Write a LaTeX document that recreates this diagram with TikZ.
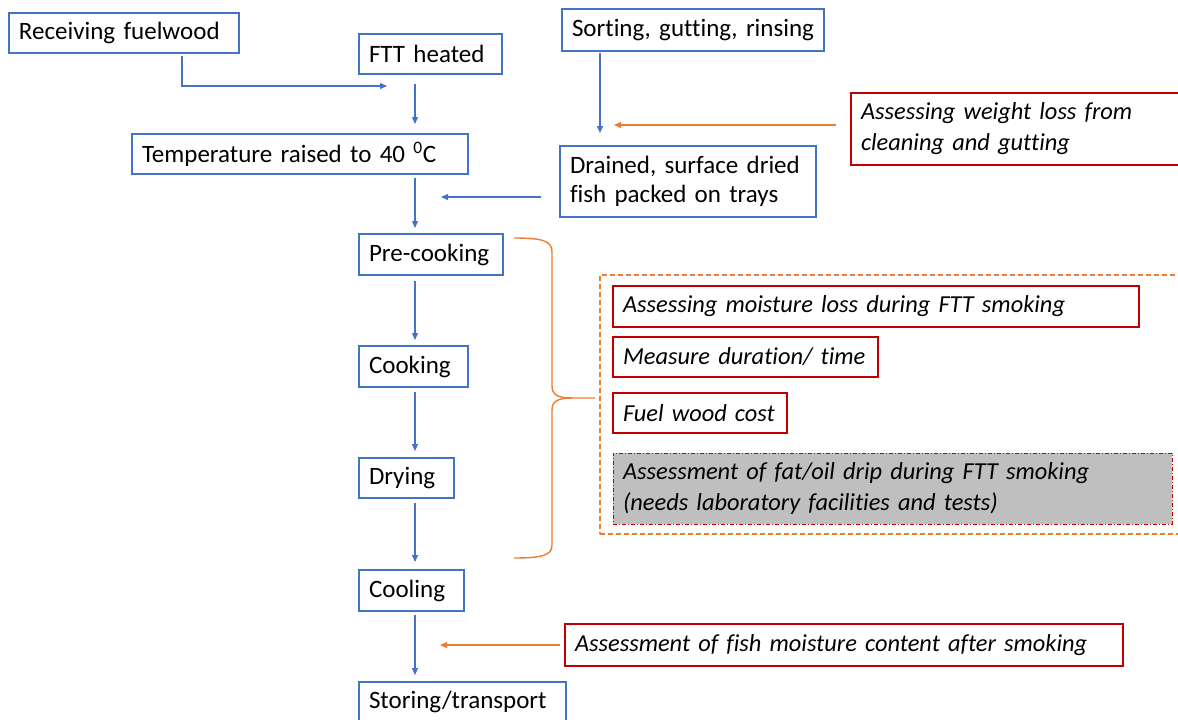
\documentclass[tikz,border=0pt]{standalone}
\usepackage{fontspec}
\setmainfont{Carlito}[Ligatures={NoCommon}]
\usetikzlibrary{arrows.meta}
\definecolor{fblue}{HTML}{4472C4}
\definecolor{forange}{HTML}{ED7D31}
\definecolor{fred}{HTML}{C00000}
\definecolor{fgray}{HTML}{BFBFBF}
\begin{document}
\begin{tikzpicture}[x=1pt,y=-1pt,
  box/.style={draw, anchor=north west, align=left, inner xsep=10pt, inner ysep=0pt, outer sep=0pt,
    font=\fontsize{25}{30}\selectfont, text=black},
  bbox/.style={box, draw=fblue, line width=1.3pt},
  rbox/.style={box, draw=fred, line width=1.3pt, font=\fontsize{24.4}{31}\selectfont\itshape},
  gbox/.style={box, draw=fred, fill=fgray, line width=1pt, dash pattern=on 4pt off 2pt on 1pt off 2pt,
    font=\fontsize{24.4}{31}\selectfont\itshape},
  grpbox/.style={draw=forange, anchor=north west, line width=1.2pt, dash pattern=on 5pt off 3pt, inner sep=0pt, outer sep=0pt},
  barr/.style={draw=fblue, line width=1.2pt, -{Triangle[length=7pt,width=6pt]}},
  oarr/.style={draw=forange, line width=1.2pt, -{Triangle[length=7pt,width=6pt]}},
  brace/.style={draw=forange, line width=1.4pt}
]
\useasboundingbox (0,0) rectangle (1178,720);
\clip (0,0) rectangle (1178,720);

% left flow
\node[bbox, text width=210pt, minimum height=40pt] (recv) at (9,13) {\mbox{Receiving fuelwood}};
\node[bbox, text width=123pt, minimum height=40pt] (ftt) at (359,34) {\mbox{FTT heated}};
\node[bbox, text width=316pt, minimum height=40pt] (temp) at (132,134) {\mbox{Temperature raised to 40 \textsuperscript{0}C}};
\node[bbox, text width=242pt, minimum height=42pt] (sort) at (562,9) {\mbox{Sorting, gutting, rinsing}};
\node[bbox, text width=236pt, minimum height=71pt, font=\fontsize{25}{29}\selectfont] (drained) at (560,146) {\mbox{Drained, surface dried}\\\mbox{fish packed on trays}};
\node[rbox, text width=319pt, minimum height=72pt] (wl) at (851,93) {\mbox{Assessing weight loss from}\\\mbox{cleaning and gutting}};
\node[bbox, text width=124pt, minimum height=41pt] (pre) at (359,234) {\mbox{Pre-cooking}};
\node[bbox, text width=89pt, minimum height=41pt] (cook) at (359,346) {\mbox{Cooking}};
\node[bbox, text width=75pt, minimum height=40pt] (dry) at (359,458) {\mbox{Drying}};
\node[bbox, text width=85pt, minimum height=41pt] (cool) at (359,570) {\mbox{Cooling}};
\node[bbox, text width=187pt, minimum height=40pt] (store) at (359,682) {\mbox{Storing/transport}};

% assessment group
\node[grpbox, minimum width=590pt, minimum height=259pt] (grp) at (600,275) {};
\node[rbox, text width=506pt, minimum height=41pt] (m1) at (613,286) {\mbox{Assessing moisture loss during FTT smoking}};
\node[rbox, text width=245pt, minimum height=40pt] (m2) at (613,337) {\mbox{Measure duration/ time}};
\node[rbox, text width=154pt, minimum height=40pt] (m3) at (613,393) {\mbox{Fuel wood cost}};
\node[gbox, text width=539pt, minimum height=71pt] (fat) at (613,453) {\mbox{Assessment of fat/oil drip during FTT smoking}\\\mbox{(needs laboratory facilities and tests)}};
\node[rbox, text width=538pt, minimum height=42pt] (after) at (565,624) {\mbox{Assessment of fish moisture content after smoking}};

% connectors
\coordinate (sp) at (415,0);
\coordinate (j1) at (387,86);
\coordinate (j2) at (441,197);
\coordinate (j3) at (614,125);
\coordinate (j4) at (440,645);

\draw[barr] ([xshift=58pt,yshift=-3pt]recv.south) |- (j1);
\draw[barr] ([yshift=-10pt]ftt.south -| sp) -- ([yshift=10pt]temp.north -| sp);
\draw[barr] ([yshift=-4pt]temp.south -| sp) -- ([yshift=6pt]pre.north -| sp);
\draw[barr] ([yshift=-6pt]pre.south -| sp) -- ([yshift=6pt]cook.north -| sp);
\draw[barr] ([yshift=-5pt]cook.south -| sp) -- ([yshift=7pt]dry.north -| sp);
\draw[barr] ([yshift=-5pt]dry.south -| sp) -- ([yshift=8pt]cool.north -| sp);
\draw[barr] ([yshift=-4pt]cool.south -| sp) -- ([yshift=7pt]store.north -| sp);

\draw[barr] ([xshift=38pt,yshift=-2pt]sort.south west) -- ([xshift=40pt,yshift=13pt]drained.north west);
\draw[barr] ([xshift=-19pt]drained.west |- j2) -- (j2);
\draw[oarr] ([xshift=-15pt]wl.west |- j3) -- (j3);
\draw[oarr] ([xshift=-5pt]after.west) -- (j4);

% brace
\draw[brace] (514,238) .. controls (543,238) and (552,241) .. (552,252)
  -- (552,386) .. controls (552,395) and (558,398) .. (572,398) -- (595,398);
\draw[brace] (572,398) .. controls (558,398) and (552,401) .. (552,410)
  -- (552,545) .. controls (552,555) and (543,558) .. (514,558);
\end{tikzpicture}
\end{document}
